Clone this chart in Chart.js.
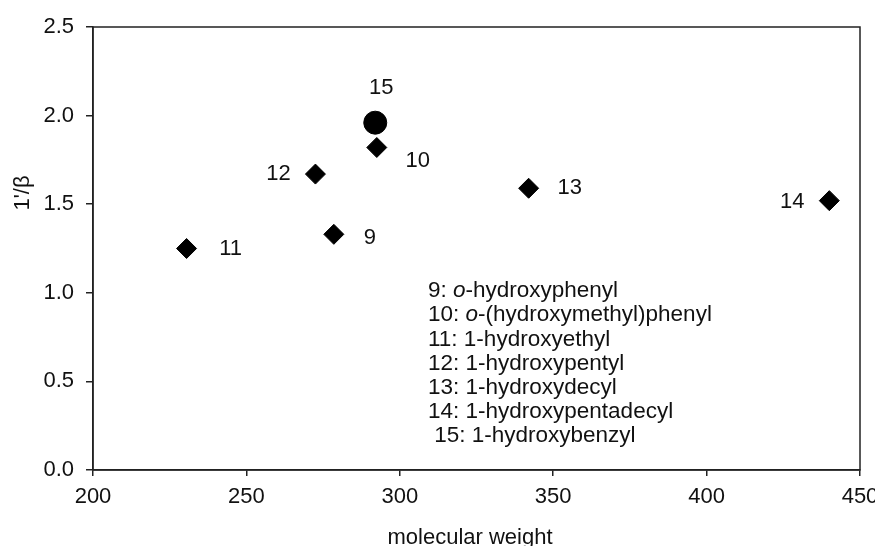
<!DOCTYPE html>
<html>
<head>
<meta charset="utf-8">
<script src="https://cdn.jsdelivr.net/npm/chart.js@4.4.1/dist/chart.umd.min.js"></script>
<style>
  html, body { margin: 0; padding: 0; background: #fff; }
  #wrap { width: 875px; height: 546px; }
</style>
</head>
<body>
<div id="wrap"><canvas id="scatter"></canvas></div>
<script>
// compound numbers, molecular weights and 1'/β values
const compounds = ['9', '10', '11', '12', '13', '14'];
const molWeights = [278.5, 292.5, 230.5, 272.5, 342, 440];
const betaInv = [1.33, 1.82, 1.25, 1.67, 1.59, 1.52];

const circleCompound = ['15'];
const circleWeight = [292];
const circleBeta = [1.96];

const xTicks = [200, 250, 300, 350, 400, 450];
const yTicks = [0, 0.5, 1.0, 1.5, 2.0, 2.5];

// legend text block: [prefix, italic part, rest]
const legendLines = [
  ['9: ', 'o', '-hydroxyphenyl'],
  ['10: ', 'o', '-(hydroxymethyl)phenyl'],
  ['11: 1-hydroxyethyl', '', ''],
  ['12: 1-hydroxypentyl', '', ''],
  ['13: 1-hydroxydecyl', '', ''],
  ['14: 1-hydroxypentadecyl', '', ''],
  [' 15: 1-hydroxybenzyl', '', '']
];

// label offsets in pixels from each point
const labelOffsets = {
  '9': [36, 4], '10': [41, 13], '11': [44, 0], '12': [-37, 0],
  '13': [41, 0], '14': [-37, 1], '15': [6, -35]
};

const FONT = 'Liberation Sans, Arial, sans-serif';
const FS = 22;
const INK = '#111';

const diamondPts = molWeights.map((w, i) => ({ x: w, y: betaInv[i], n: compounds[i] }));
const circlePts = circleWeight.map((w, i) => ({ x: w, y: circleBeta[i], n: circleCompound[i] }));

const annotate = {
  id: 'annotate',
  afterDraw(chart) {
    const { ctx, chartArea: a, scales } = chart;
    ctx.save();
    // frame
    ctx.strokeStyle = '#222';
    ctx.lineWidth = 1.5;
    ctx.strokeRect(a.left, a.top, a.right - a.left, a.bottom - a.top);

    ctx.fillStyle = INK;
    ctx.font = FS + 'px ' + FONT;
    ctx.textAlign = 'center';
    ctx.textBaseline = 'middle';
    chart.data.datasets.forEach(ds => {
      ds.data.forEach(p => {
        const off = labelOffsets[p.n] || [0, 0];
        ctx.fillText(p.n, scales.x.getPixelForValue(p.x) + off[0], scales.y.getPixelForValue(p.y) + off[1]);
      });
    });

    // axis titles
    ctx.textBaseline = 'alphabetic';
    ctx.fillText('molecular weight', 470, 544);
    ctx.textBaseline = 'middle';
    ctx.save();
    ctx.translate(23, 193);
    ctx.rotate(-Math.PI / 2);
    ctx.fillText("1'/β", 0, 0);
    ctx.restore();

    // compound key
    ctx.textAlign = 'left';
    const y0 = 291, step = 24.2;
    const kf = 22.5;
    legendLines.forEach((ln, i) => {
      let x = 428;
      const y = y0 + i * step;
      ctx.font = kf + 'px ' + FONT;
      ctx.fillText(ln[0], x, y);
      x += ctx.measureText(ln[0]).width;
      if (ln[1]) {
        ctx.font = 'italic ' + kf + 'px ' + FONT;
        ctx.fillText(ln[1], x, y);
        x += ctx.measureText(ln[1]).width;
        ctx.font = kf + 'px ' + FONT;
        ctx.fillText(ln[2], x, y);
      }
    });
    ctx.restore();
  }
};

new Chart(document.getElementById('scatter'), {
  type: 'scatter',
  data: {
    datasets: [
      {
        data: diamondPts,
        pointStyle: 'rectRot',
        pointRadius: 10,
        pointHoverRadius: 10,
        backgroundColor: '#000',
        borderColor: '#000',
        borderWidth: 1
      },
      {
        data: circlePts,
        pointStyle: 'circle',
        pointRadius: 11.5,
        pointHoverRadius: 11.5,
        backgroundColor: '#000',
        borderColor: '#000',
        borderWidth: 1
      }
    ]
  },
  options: {
    responsive: true,
    maintainAspectRatio: false,
    animation: false,
    events: [],
    layout: { padding: { left: 0, right: 15, top: 27, bottom: 0 } },
    plugins: { legend: { display: false }, tooltip: { enabled: false } },
    scales: {
      x: {
        type: 'linear',
        min: xTicks[0],
        max: xTicks[xTicks.length - 1],
        afterBuildTicks: s => { s.ticks = xTicks.map(v => ({ value: v })); },
        afterFit: s => { s.height = 76; s.paddingLeft = 0; s.paddingRight = 0; },
        grid: { drawOnChartArea: false, drawTicks: true, tickLength: 6, color: '#222', lineWidth: 1.5 },
        border: { display: true, color: '#222', width: 1.5 },
        ticks: { color: INK, font: { family: FONT, size: FS }, padding: 8 }
      },
      y: {
        type: 'linear',
        min: yTicks[0],
        max: yTicks[yTicks.length - 1],
        afterBuildTicks: s => { s.ticks = yTicks.map(v => ({ value: v })); },
        afterFit: s => { s.width = 93; s.paddingTop = 0; s.paddingBottom = 0; },
        grid: { drawOnChartArea: false, drawTicks: true, tickLength: 7, color: '#222', lineWidth: 1.5 },
        border: { display: true, color: '#222', width: 1.5 },
        ticks: { color: INK, font: { family: FONT, size: FS }, padding: 12, callback: v => v.toFixed(1) }
      }
    }
  },
  plugins: [annotate]
});
</script>
</body>
</html>
